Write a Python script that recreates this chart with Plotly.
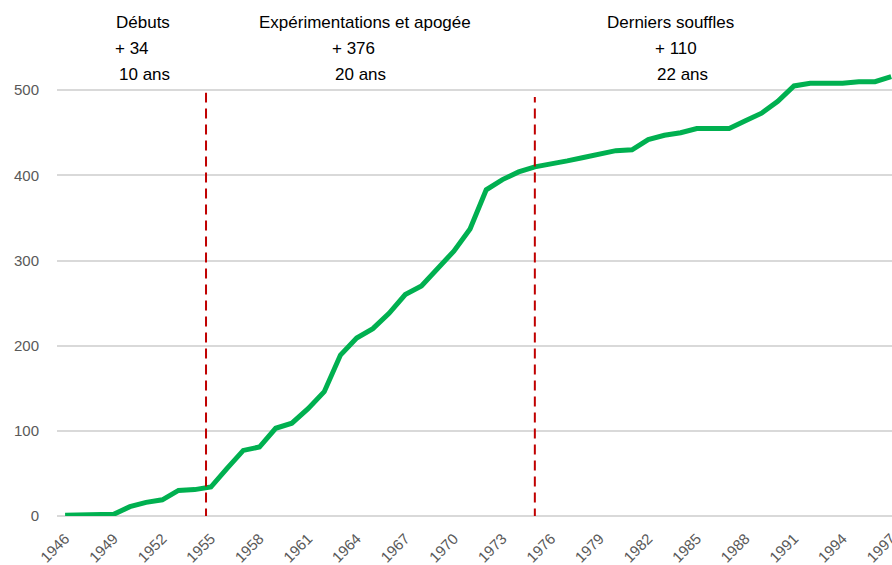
import plotly.graph_objects as go

# Cumulative count per year
years = list(range(1946, 1998))
values = [1, 1, 1, 2, 11, 16, 19, 30, 31, 34,
          56, 77, 81, 103, 109, 126, 146, 189, 209, 220,
          238, 260, 270, 290, 311, 337, 383, 395, 404, 410,
          413, 417, 421, 425, 429, 430, 442, 447, 450, 455,
          455, 455, 464, 473, 487, 505, 508, 508, 508, 510,
          510, 516]

# Periods: title, gain over the period, duration in years
period_titles = ["Débuts", "Expérimentations et apogée", "Derniers souffles"]
period_gains = [34, 376, 110]
period_years = [10, 20, 22]
period_breaks = [1954.7, 1975.0]

x_tickvals = list(range(1946, 1998, 3))
y_tickvals = [0, 100, 200, 300, 400, 500]

W, H = 892, 565
ML, MR, MT, MB = 57, 0, 5, 49
PW, PH = W - ML - MR, H - MT - MB


def px_x(px):
    return (px - ML) / PW


def px_y(py):
    return (H - MB - py) / PH


fig = go.Figure()
fig.add_trace(go.Scatter(
    x=years, y=values, mode="lines",
    line=dict(color="#00B050", width=5),
    hoverinfo="x+y",
))

for xb, top in zip(period_breaks, [497, 492]):
    fig.add_shape(type="line", xref="x", yref="y",
                  x0=xb, x1=xb, y0=-3, y1=top,
                  line=dict(color="#C00000", width=2, dash="10px,6px"))

# Text block positions (left edges in pixels) for each period
blocks = [
    (114, 113, 117),
    (257, 330, 333),
    (605, 653, 655),
]
font = dict(family="Liberation Sans, Arial, sans-serif", size=17, color="#000000")
for title, g, n, (x1, x2, x3) in zip(period_titles, period_gains, period_years, blocks):
    lines = [(title, x1, 22), (f"+ {g}", x2, 48), (f"{n} ans", x3, 74)]
    for txt, xp, yp in lines:
        fig.add_annotation(text=txt, xref="paper", yref="paper",
                           x=px_x(xp), y=px_y(yp), xanchor="left", yanchor="middle",
                           showarrow=False, font=font)

fig.update_layout(
    width=W, height=H,
    margin=dict(l=ML, r=MR, t=MT, b=MB, autoexpand=False),
    plot_bgcolor="white", paper_bgcolor="white",
    showlegend=False,
    font=dict(family="Liberation Sans, Arial, sans-serif"),
)
fig.update_xaxes(
    range=[1945.5, 1997.05], automargin=False,
    tickvals=x_tickvals, ticktext=[str(v) for v in x_tickvals],
    tickangle=-45, showgrid=False, zeroline=False, showline=False,
    ticks="", ticklabelstandoff=10, ticklabeloverflow="allow",
    tickfont=dict(size=15, color="#595959"),
)
fig.update_yaxes(
    range=[0, 600], automargin=False, tickvals=y_tickvals,
    showgrid=True, gridcolor="#D9D9D9", gridwidth=1.5,
    zeroline=True, zerolinecolor="#D9D9D9", zerolinewidth=1.5,
    showline=False, ticks="", ticklabelstandoff=17,
    tickfont=dict(size=15, color="#595959"),
)

fig.write_html("out.html")
